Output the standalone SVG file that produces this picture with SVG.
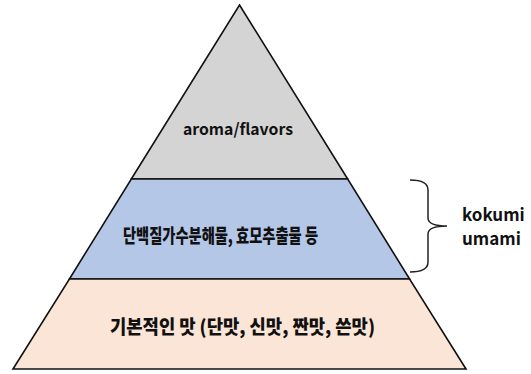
<svg xmlns="http://www.w3.org/2000/svg" width="531" height="374" viewBox="0 0 531 374">
<style>
.layer{stroke:#111;stroke-width:1.6;stroke-linejoin:miter}
.t{font-family:"Noto Sans CJK KR","Noto Sans",sans-serif;font-weight:bold;fill:#111}
.k{font-weight:900}
.brace{fill:none;stroke:#222;stroke-width:1.5}
</style>
<rect width="531" height="374" fill="#fff"/>
<g id="top">
<polygon class="layer" fill="#d4d4d4" points="239.5,5 347.7,179 131.3,179"/>
<text class="t" x="238" y="135" font-size="16" text-anchor="middle" textLength="110" lengthAdjust="spacingAndGlyphs">aroma/flavors</text>
</g>
<g id="middle">
<polygon class="layer" fill="#b4c7e7" points="131.3,179 347.7,179 409.6,279 69.4,279"/>
<text class="t k" x="220.5" y="243" font-size="19" text-anchor="middle" textLength="195" lengthAdjust="spacingAndGlyphs">단백질가수분해물, 효모추출물 등</text>
</g>
<g id="bottom">
<polygon class="layer" fill="#fbe5d6" points="69.4,279 409.6,279 466,369 13,369"/>
<text class="t k" x="242.5" y="334" font-size="19" text-anchor="middle" textLength="265" lengthAdjust="spacingAndGlyphs">기본적인 맛 (단맛, 신맛, 짠맛, 쓴맛)</text>
</g>
<g id="connectors">
<path class="brace" d="M410,180 Q428,180 428,190 L428,218 Q428,226 447,226 Q428,226 428,234 L428,262 Q428,272 410,272"/>
</g>
<g id="label">
<text class="t" x="462" y="221" font-size="17">kokumi</text>
<text class="t" x="462" y="245" font-size="17">umami</text>
</g>
</svg>
